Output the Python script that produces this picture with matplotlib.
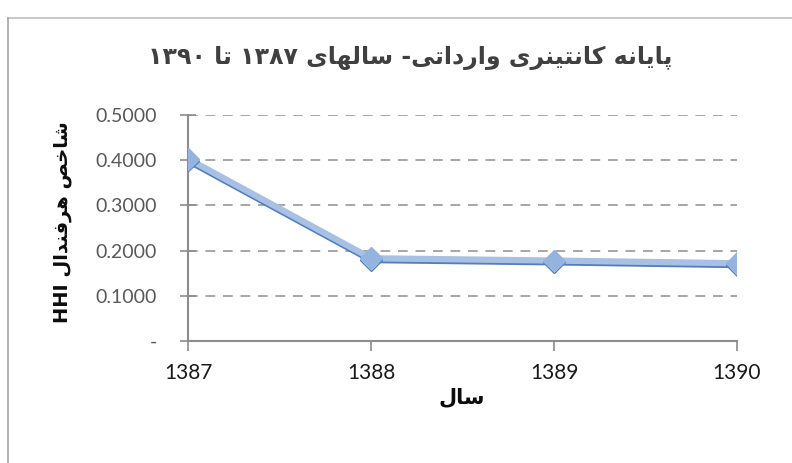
import matplotlib
matplotlib.use("Agg")
import matplotlib.pyplot as plt
import matplotlib.patheffects as pe
from matplotlib.lines import Line2D

# ---------------- data ----------------
years = [1387, 1388, 1389, 1390]
hhi = [0.403, 0.183, 0.178, 0.172]
y_ticks = [0.0, 0.1, 0.2, 0.3, 0.4, 0.5]
y_tick_labels = ["-", "0.1000", "0.2000", "0.3000", "0.4000", "0.5000"]
title_text = "پایانه کانتینری وارداتی- سالهای ۱۳۸۷ تا ۱۳۹۰"
xlabel_text = "سال"
ylabel_text = "شاخص هرفندال HHI"

# -------- tiny persian shaper (no arabic_reshaper available) --------
# (isolated, final, initial, medial)
FORMS = {
    "پ": ("\uFB56", "\uFB57", "\uFB58", "\uFB59"),
    "ا": ("\uFE8D", "\uFE8E", None, None),
    "ی": ("\uFBFC", "\uFBFD", "\uFBFE", "\uFBFF"),
    "ن": ("\uFEE5", "\uFEE6", "\uFEE7", "\uFEE8"),
    "ه": ("\uFEE9", "\uFEEA", "\uFEEB", "\uFEEC"),
    "ک": ("\uFB8E", "\uFB8F", "\uFB90", "\uFB91"),
    "ت": ("\uFE95", "\uFE96", "\uFE97", "\uFE98"),
    "ر": ("\uFEAD", "\uFEAE", None, None),
    "و": ("\uFEED", "\uFEEE", None, None),
    "د": ("\uFEA9", "\uFEAA", None, None),
    "س": ("\uFEB1", "\uFEB2", "\uFEB3", "\uFEB4"),
    "ل": ("\uFEDD", "\uFEDE", "\uFEDF", "\uFEE0"),
    "ش": ("\uFEB5", "\uFEB6", "\uFEB7", "\uFEB8"),
    "خ": ("\uFEA5", "\uFEA6", "\uFEA7", "\uFEA8"),
    "ص": ("\uFEB9", "\uFEBA", "\uFEBB", "\uFEBC"),
    "ف": ("\uFED1", "\uFED2", "\uFED3", "\uFED4"),
}


def joins_forward(ch):
    return ch in FORMS and FORMS[ch][2] is not None


def shape(text):
    out = []
    for i, ch in enumerate(text):
        if ch not in FORMS:
            out.append(ch)
            continue
        prev = text[i - 1] if i > 0 else ""
        nxt = text[i + 1] if i + 1 < len(text) else ""
        jp = joins_forward(prev)
        jn = joins_forward(ch) and nxt in FORMS
        iso, fin, ini, med = FORMS[ch]
        if jp and jn:
            out.append(med)
        elif jp:
            out.append(fin)
        elif jn:
            out.append(ini)
        else:
            out.append(iso)
    return "".join(out)


def is_ltr(ch):
    return (ch.isascii() and ch.isalnum()) or ("\u06f0" <= ch <= "\u06f9")


def fa(text):
    # shape, then put runs in visual (right-to-left) order
    shaped = shape(text)
    runs = []
    for ch in shaped:
        ltr = is_ltr(ch)
        if runs and runs[-1][0] == ltr:
            runs[-1][1].append(ch)
        else:
            runs.append([ltr, [ch]])
    out = ""
    for ltr, chars in reversed(runs):
        out += "".join(chars) if ltr else "".join(reversed(chars))
    return out


# ---------------- figure ----------------
W, H = 792, 463
fig = plt.figure(figsize=(W / 100, H / 100), dpi=100)
fig.patch.set_facecolor("white")

# chart border (runs off right and bottom)
fig.add_artist(Line2D([8 / W, 1], [1 - 18 / H, 1 - 18 / H],
                      color="#bfbfbf", lw=1.2))
fig.add_artist(Line2D([8 / W, 8 / W], [0, 1 - 18 / H],
                      color="#a6a6a6", lw=1.2))

ax = fig.add_axes([188 / W, 1 - 341 / H, (737 - 188) / W, (341 - 115) / H])
ax.patch.set_alpha(0)

ax.plot(years, hhi, color="#a7c0e4", lw=4.5, marker="D", markersize=11,
        markerfacecolor="#94b3de", markeredgecolor="#94b3de", zorder=4,
        solid_capstyle="round",
        path_effects=[pe.SimpleLineShadow(offset=(0, -1.3),
                                          shadow_color="#4f7fbf", alpha=1.0),
                      pe.Normal()])

ax.set_xlim(1387, 1390)
ax.set_ylim(0, 0.5)
ax.set_xticks(years)
ax.set_xticklabels([str(y) for y in years])
ax.set_yticks(y_ticks)
ax.set_yticklabels(y_tick_labels)

for y in y_ticks[1:]:
    ax.axhline(y, color="#a6a6a6", lw=1.4, ls=(0, (5, 4)), zorder=1)

for s in ["top", "right"]:
    ax.spines[s].set_visible(False)
for s in ["left", "bottom"]:
    ax.spines[s].set_color("#8c8c8c")
    ax.spines[s].set_linewidth(1.5)

ax.tick_params(axis="y", direction="inout", length=11, width=1.2,
               color="#8c8c8c", pad=17, labelsize=14, labelcolor="#595959")
ax.tick_params(axis="x", direction="out", length=7, width=1.2,
               color="#8c8c8c", pad=9, labelsize=15, labelcolor="#1a1a1a")
for lab in ax.get_xticklabels() + ax.get_yticklabels():
    lab.set_family(["Lato", "DejaVu Sans"])

fig.text(410 / W, 1 - 58 / H, fa(title_text), fontsize=17, fontweight="bold",
         color="#404040", family="DejaVu Sans", ha="center", va="center")
fig.text(462 / W, 1 - 397 / H, fa(xlabel_text), fontsize=15,
         fontweight="bold", color="#0d0d0d", family="DejaVu Sans",
         ha="center", va="center")
fig.text(62 / W, 1 - 222 / H, fa(ylabel_text), fontsize=14,
         fontweight="bold", color="#0d0d0d", family="DejaVu Sans",
         rotation=90, ha="center", va="center")

fig.savefig("out.png", dpi=100, facecolor="white")
